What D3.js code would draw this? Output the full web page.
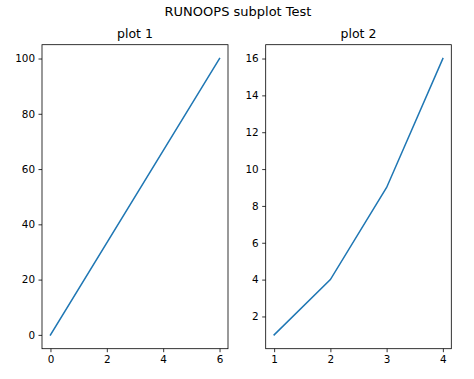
<!DOCTYPE html>
<html><head><meta charset="utf-8">
<script src="https://cdn.jsdelivr.net/npm/d3@7"></script>
<style>body{margin:0;background:#fff}svg{display:block}text{font-family:"DejaVu Sans",sans-serif;fill:#000}</style>
</head><body>
<script>
const suptitle = "RUNOOPS subplot Test";
const titles = ["plot 1", "plot 2"];
const x1 = [0, 6];
const y1 = [0, 100];
const x2 = [1, 2, 3, 4];
const y2 = [1, 4, 9, 16];
const xticks1 = [0, 2, 4, 6];
const yticks1 = [0, 20, 40, 60, 80, 100];
const xticks2 = [1, 2, 3, 4];
const yticks2 = [2, 4, 6, 8, 10, 12, 14, 16];

const W = 474, H = 379;
const svg = d3.select("body").append("svg").attr("width", W).attr("height", H);

svg.append("text").attr("x", 238).attr("y", 15.5).attr("text-anchor", "middle")
  .style("font-size", "13px").text(suptitle);

function panel(left, right, top, bottom, xs, ys, xt, yt, title) {
  const pad = v => { const [a, b] = d3.extent(v); const d = (b - a) * 0.05; return [a - d, b + d]; };
  const x = d3.scaleLinear().domain(pad(xs)).range([left, right]);
  const y = d3.scaleLinear().domain(pad(ys)).range([bottom, top]);
  const g = svg.append("g");
  const xa = g.append("g").attr("transform", `translate(0,${bottom})`)
    .call(d3.axisBottom(x).tickValues(xt).tickSize(3.5).tickPadding(3.5).tickFormat(d3.format("d")));
  const ya = g.append("g").attr("transform", `translate(${left},0)`)
    .call(d3.axisLeft(y).tickValues(yt).tickSize(3.5).tickPadding(3.5).tickFormat(d3.format("d")));
  [xa, ya].forEach(a => {
    a.attr("font-family", null).attr("font-size", null);
    a.select(".domain").remove();
    a.selectAll("text").style("font-size", "10.4px").attr("fill", "#000");
    a.selectAll("line").attr("stroke", "#000").attr("stroke-width", 0.8);
  });
  g.append("rect").attr("x", left).attr("y", top).attr("width", right - left).attr("height", bottom - top)
    .attr("fill", "none").attr("stroke", "#000").attr("stroke-width", 0.8);
  const data = xs.map((d, i) => [d, ys[i]]);
  g.append("path").datum(data)
    .attr("d", d3.line().x(d => x(d[0])).y(d => y(d[1])))
    .attr("fill", "none").attr("stroke", "#1f77b4").attr("stroke-width", 1.5).attr("stroke-linecap", "square");
  g.append("text").attr("x", (left + right) / 2).attr("y", top - 6.5).attr("text-anchor", "middle")
    .style("font-size", "12.5px").text(title);
}

panel(42, 228, 44.7, 348.7, x1, y1, xticks1, yticks1, titles[0]);
panel(265.7, 451.3, 44.7, 348.7, x2, y2, xticks2, yticks2, titles[1]);
</script>
</body></html>
